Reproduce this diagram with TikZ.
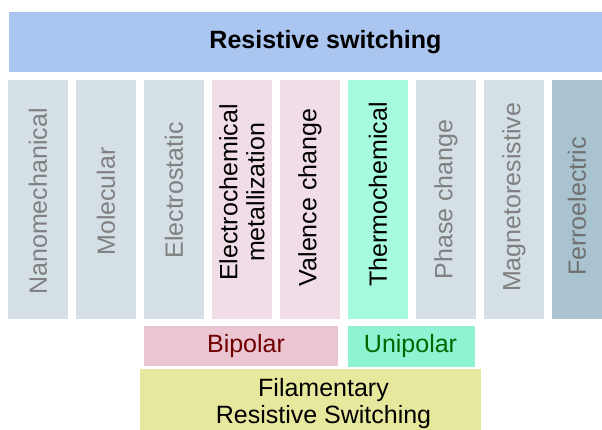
\documentclass[tikz,border=0pt]{standalone}
\usepackage{fontspec}
\setmainfont{Liberation Sans}
\usepackage{xcolor}
\usetikzlibrary{positioning}

\definecolor{headblue}{HTML}{AAC5EF}
\definecolor{mechgray}{HTML}{D4E0E6}
\definecolor{redoxpink}{HTML}{F0DDE8}
\definecolor{thermomint}{HTML}{A6FBDE}
\definecolor{ferroblue}{HTML}{A9C4D0}
\definecolor{bipink}{HTML}{EBC6D2}
\definecolor{unimint}{HTML}{8EF3D2}
\definecolor{filyellow}{HTML}{E6E89D}
\definecolor{dimtext}{HTML}{808080}
\definecolor{ferrotext}{HTML}{707070}
\definecolor{bitext}{HTML}{700000}
\definecolor{unitext}{HTML}{006600}

\begin{document}
\begin{tikzpicture}[x=1pt, y=-1pt,
    block/.style={rectangle, inner sep=0pt, outer sep=0pt, anchor=north west},
    col/.style={block, minimum width=60pt, minimum height=239pt},
    vtext/.style={rotate=90, inner sep=0pt, align=center, font=\fontsize{25}{27}\selectfont},
    htext/.style={inner sep=0pt, align=center, font=\fontsize{25}{27}\selectfont}
]
    \useasboundingbox (0,0) rectangle (602,430);

    % header bar
    \node (head) [block, fill=headblue, minimum width=593pt, minimum height=60pt] at (9,12) {};
    \node (headtxt) [htext, font=\bfseries\fontsize{25}{27}\selectfont] at ([xshift=20pt]head.center) {Resistive switching};

    % mechanism columns
    \node (nano)   [col, fill=mechgray] at (8,80) {};
    \node (mole)   [col, fill=mechgray, right=8pt of nano] {};
    \node (estat)  [col, fill=mechgray, right=8pt of mole] {};
    \node (ecm)    [col, fill=redoxpink, right=8pt of estat] {};
    \node (vcm)    [col, fill=redoxpink, right=8pt of ecm] {};
    \node (thermo) [col, fill=thermomint, right=8pt of vcm] {};
    \node (phase)  [col, fill=mechgray, right=8pt of thermo] {};
    \node (magneto)[col, fill=mechgray, right=8pt of phase] {};
    \node (ferro)  [col, fill=ferroblue, minimum width=50pt, right=8pt of magneto] {};

    \node (nanotxt)    [vtext, text=dimtext] at ([yshift=-2pt]nano) {Nanomechanical};
    \node (moletxt)    [vtext, text=dimtext] at ([yshift=-2pt]mole) {Molecular};
    \node (estattxt)   [vtext, text=dimtext] at ([yshift=9pt]estat) {Electrostatic};
    \node (ecmtxt)     [vtext] at ([yshift=7pt]ecm) {Electrochemical\\metallization};
    \node (vcmtxt)     [vtext] at ([yshift=2pt]vcm) {Valence change};
    \node (thermotxt)  [vtext] at ([yshift=5pt]thermo) {Thermochemical};
    \node (phasetxt)   [vtext, text=dimtext] at (phase) {Phase change};
    \node (magnetotxt) [vtext, text=dimtext] at ([yshift=2pt]magneto) {Magnetoresistive};
    \node (ferrotxt)   [vtext, text=ferrotext] at ([yshift=-7pt]ferro) {Ferroelectric};

    % polarity groups
    \node (bip) [block, fill=bipink, minimum width=194pt, minimum height=40pt,
                 below=7pt of estat.south west, anchor=north west] {};
    \node (uni) [block, fill=unimint, minimum width=127pt, minimum height=41pt,
                 below=7pt of thermo.south west, anchor=north west] {};
    \node (biptxt) [htext, text=bitext] at ([xshift=5pt]bip.center) {Bipolar};
    \node (unitxt) [htext, text=unitext] at ([xshift=-1pt]uni.center) {Unipolar};

    % filamentary switching
    \node (fil) [block, fill=filyellow, minimum width=341pt, minimum height=61pt,
                 below=3pt of bip.south west, anchor=north west, xshift=-4pt] {};
    \node (filtxt) [htext] at ([xshift=13pt, yshift=-4pt]fil.center) {Filamentary\\Resistive Switching};
\end{tikzpicture}
\end{document}
